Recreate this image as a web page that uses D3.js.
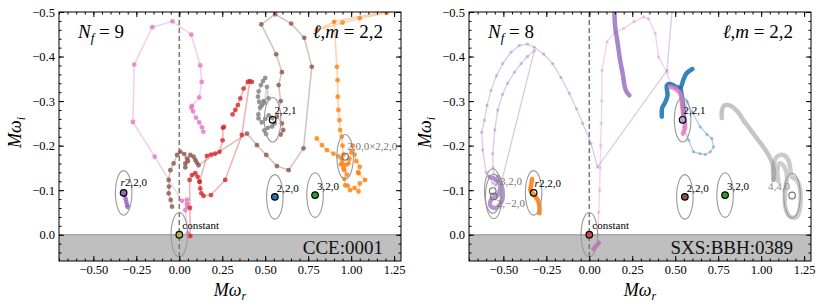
<!DOCTYPE html>
<html>
<head>
<meta charset="utf-8">
<script src="https://cdn.jsdelivr.net/npm/d3@7"></script>
<style>
  body { margin: 0; background: #fff; }
  svg { display: block; }
  text { font-family: "Liberation Serif", "DejaVu Serif", serif; }
</style>
</head>
<body>
<svg id="chart" width="822" height="307"></svg>
<script>
// axis ticks
const xTicks = [-0.5, -0.25, 0, 0.25, 0.5, 0.75, 1.0, 1.25];
const yTicks = [-0.5, -0.4, -0.3, -0.2, -0.1, 0.0];
const xMinor = d3.range(-0.7, 1.2901, 0.05);
const yMinor = d3.range(-0.5, 0.0501, 0.02);

// ---- left panel (CCE:0001, Nf = 9) trajectories, [Mw_r, Mw_i] ----
const pinkL = [[0.05,-0.003],[0.035,-0.055],[0.045,-0.063],[0.045,-0.07],[0.045,-0.079],[0.015,-0.076],
  [-0.143,-0.175],[-0.27,-0.253],[-0.262,-0.382],[-0.157,-0.466],[-0.04,-0.479],[0.07,-0.449],
  [0.122,-0.38],[0.13,-0.343],[0.116,-0.308],[0.074,-0.289],[0.07,-0.285],[0.08,-0.277],
  [0.097,-0.263],[0.116,-0.252],[0.132,-0.241],[0.14,-0.231]];
const brownL = [[-0.042,-0.063],[-0.05,-0.078],[-0.062,-0.093],[-0.06,-0.108],[-0.062,-0.123],[-0.052,-0.145],
  [-0.033,-0.16],[-0.013,-0.179],[0.006,-0.186],[0.029,-0.181],[0.045,-0.171],[0.035,-0.16],[0.035,-0.151],
  [0.05,-0.165],[0.064,-0.179],[0.083,-0.175],[0.093,-0.168],[0.102,-0.162],[0.112,-0.156],[0.394,-0.227],
  [0.452,-0.201],[0.506,-0.179],[0.568,-0.154],[0.636,-0.145],[0.723,-0.194],[0.771,-0.377],[0.727,-0.442],
  [0.651,-0.474],[0.558,-0.495],[0.477,-0.472],[0.564,-0.405],[0.597,-0.365],[0.578,-0.336],[0.59,-0.30],
  [0.568,-0.265],[0.597,-0.25],[0.605,-0.235],[0.59,-0.225]];
const redL = [[0.064,0.003],[0.062,-0.06],[0.06,-0.123],[0.074,-0.134],[0.093,-0.138],[0.107,-0.13],
  [0.118,-0.119],[0.122,-0.104],[0.128,-0.093],[0.141,-0.087],[0.184,-0.089],[0.267,-0.123],[0.364,-0.224],
  [0.41,-0.345],[0.422,-0.343],[0.399,-0.343],[0.374,-0.328],[0.355,-0.306],[0.341,-0.291],[0.326,-0.28],[0.31,-0.27]];
const redL2 = [[0.118,-0.119],[0.161,-0.177],[0.185,-0.18],[0.209,-0.182],[0.234,-0.186],[0.252,-0.212],
  [0.254,-0.24],[0.26,-0.242]];
const grayL = [[0.50,-0.352],[0.487,-0.345],[0.475,-0.336],[0.462,-0.322],[0.458,-0.31],[0.465,-0.298],
  [0.48,-0.29],[0.495,-0.296],[0.51,-0.332],[0.519,-0.306],[0.49,-0.3],[0.47,-0.285],[0.46,-0.27],
  [0.461,-0.261],[0.48,-0.252],[0.5,-0.26],[0.52,-0.268],[0.54,-0.262],[0.555,-0.25],[0.54,-0.243],
  [0.515,-0.24],[0.495,-0.234],[0.505,-0.226]];
const orangeL = [[0.80,-0.216],[0.83,-0.201],[0.859,-0.19],[0.897,-0.182],[0.925,-0.176],[0.945,-0.17],
  [0.94,-0.158],[0.955,-0.15],[0.97,-0.157],[0.985,-0.16],[0.99,-0.17],[1.0,-0.185],[1.01,-0.2],[1.02,-0.18],
  [1.03,-0.165],[1.05,-0.152],[1.04,-0.14],[1.043,-0.138],[1.081,-0.123],[1.05,-0.115],[1.043,-0.097],
  [1.02,-0.105],[0.994,-0.1],[0.98,-0.11],[0.965,-0.111],[0.96,-0.125],[0.975,-0.135],[0.96,-0.145],
  [0.95,-0.16],[0.955,-0.18],[0.95,-0.2],[0.945,-0.22],[0.936,-0.235],[0.932,-0.257],[0.926,-0.28],
  [0.922,-0.31],[0.921,-0.347],[0.917,-0.377],[0.901,-0.478],[0.80,-0.459],[0.95,-0.476],[1.05,-0.486],
  [1.207,-0.498],[1.30,-0.51]];
const orangeL2 = [[0.901,-0.478],[1.048,-0.49],[1.227,-0.503],[1.30,-0.51]];
const purpleL = [[-0.324,-0.094],[-0.318,-0.088],[-0.312,-0.08],[-0.308,-0.073],[-0.303,-0.066],[-0.30,-0.062]];

// ---- right panel (SXS:BBH:0389, Nf = 8) trajectories ----
const purpleOuterR = [[-0.56,-0.115],[-0.60,-0.14],[-0.62,-0.19],[-0.626,-0.23],[-0.61,-0.257],[-0.595,-0.29],
  [-0.572,-0.324],[-0.54,-0.357],[-0.504,-0.384],[-0.455,-0.41],[-0.407,-0.425],[-0.36,-0.428],[-0.32,-0.421],
  [-0.265,-0.405],[-0.213,-0.384],[-0.165,-0.353],[-0.116,-0.317],[-0.075,-0.283],[-0.039,-0.25],
  [0.01,-0.205],[0.048,-0.152],[0.452,-0.369],[0.481,-0.5],[0.49,-0.53]];
const purpleInnerR = [[-0.545,-0.11],[-0.56,-0.15],[-0.562,-0.182],[-0.55,-0.235],[-0.533,-0.28],[-0.505,-0.315],
  [-0.475,-0.34],[-0.435,-0.365],[-0.397,-0.384],[-0.36,-0.40],[-0.32,-0.413],[-0.513,-0.115]];
const purpleThickR = [[0.145,-0.52],[0.15,-0.47],[0.165,-0.43],[0.18,-0.39],[0.195,-0.36],[0.205,-0.335],
  [0.215,-0.322],[0.233,-0.313]];
const purpleBlobR = [[-0.58,-0.13],[-0.55,-0.125],[-0.52,-0.115],[-0.53,-0.09],[-0.57,-0.08],[-0.575,-0.065],
  [-0.545,-0.06],[-0.51,-0.075],[-0.505,-0.1],[-0.53,-0.13]];
const pinkThinR = [[0.05,0.0],[0.055,-0.05],[0.06,-0.1],[0.063,-0.15],[0.066,-0.2],[0.07,-0.25],[0.072,-0.3],
  [0.074,-0.369],[0.103,-0.433],[0.15,-0.455],[0.2,-0.463],[0.26,-0.478],[0.316,-0.489],[0.345,-0.485],
  [0.384,-0.452],[0.403,-0.399],[0.452,-0.365],[0.471,-0.34]];
const pinkBottomR = [[0.025,0.032],[0.04,0.025],[0.055,0.018]];
const pinkThickR = [[0.471,-0.332],[0.5,-0.328],[0.529,-0.317],[0.539,-0.295],[0.548,-0.265],[0.558,-0.242],
  [0.545,-0.227]];
const blueThickR = [[0.422,-0.265],[0.424,-0.285],[0.44,-0.296],[0.455,-0.312],[0.452,-0.336],[0.475,-0.338],
  [0.505,-0.332],[0.53,-0.33],[0.545,-0.345],[0.565,-0.362],[0.60,-0.372]];
const blueThickR2 = [[0.53,-0.33],[0.539,-0.31],[0.548,-0.28],[0.552,-0.255]];
const blueLoopR = [[0.552,-0.25],[0.56,-0.275],[0.568,-0.30],[0.60,-0.275],[0.645,-0.242],[0.685,-0.225],
  [0.713,-0.216],[0.723,-0.197],[0.704,-0.186],[0.675,-0.18],[0.645,-0.182],[0.606,-0.186],[0.578,-0.212],
  [0.548,-0.242]];
const grayThickR = [[0.771,-0.262],[0.772,-0.28],[0.785,-0.29],[0.80,-0.292],[0.825,-0.289],[0.849,-0.282],
  [0.875,-0.27],[0.9,-0.255],[0.93,-0.24],[0.96,-0.224],[0.99,-0.209],[1.02,-0.193],[1.045,-0.178],
  [1.065,-0.16],[1.075,-0.14],[1.072,-0.123]];
const grayLoopR = [[1.072,-0.123],[1.07,-0.15],[1.09,-0.175],[1.13,-0.179],[1.159,-0.167],[1.169,-0.15],
  [1.178,-0.13],[1.207,-0.123],[1.227,-0.1],[1.227,-0.063],[1.207,-0.04],[1.169,-0.04],[1.14,-0.063],
  [1.14,-0.1],[1.15,-0.13],[1.13,-0.155],[1.105,-0.16],[1.095,-0.14],[1.1,-0.12]];
const orangeR = [[-0.333,-0.125],[-0.339,-0.11],[-0.343,-0.1],[-0.32,-0.089],[-0.30,-0.078],[-0.29,-0.063],
  [-0.29,-0.048]];

// ---- QNM reference points ----
const modesL = [
  { label: "r2,2,0", x: -0.324, y: -0.094, fill: "#9467bd", stroke: "#000", dx: -3, dy: -7 },
  { label: "constant", x: 0.0, y: 0.0, fill: "#b3b33d", stroke: "#000", dx: 3, dy: -6 },
  { label: "2,2,0", x: 0.556, y: -0.085, fill: "#1f77b4", stroke: "#000", dx: 2, dy: -5 },
  { label: "3,2,0", x: 0.79, y: -0.089, fill: "#2ca02c", stroke: "#000", dx: 2, dy: -5 },
  { label: "2,2,1", x: 0.543, y: -0.258, fill: "none", stroke: "#000", dx: 2, dy: -6 },
  { label: "2,0,0×2,2,0", x: 0.965, y: -0.175, fill: "none", stroke: "#777", text: "#777", dx: 2, dy: -7 }
];
const modesR = [
  { label: "r3,2,0", x: -0.562, y: -0.098, fill: "none", stroke: "#777", text: "#777", dx: 3, dy: -6 },
  { label: "2,−2,0", x: -0.556, y: -0.086, fill: "none", stroke: "#777", text: "#777", dx: 3, dy: 11 },
  { label: "r2,2,0", x: -0.324, y: -0.094, fill: "none", stroke: "#000", dx: 1, dy: -6 },
  { label: "constant", x: 0.0, y: 0.0, fill: "#c0504d", stroke: "#000", dx: 3, dy: -6 },
  { label: "2,2,0", x: 0.556, y: -0.085, fill: "#8c564b", stroke: "#000", dx: 2, dy: -5 },
  { label: "3,2,0", x: 0.79, y: -0.089, fill: "#2ca02c", stroke: "#000", dx: 2, dy: -5 },
  { label: "2,2,1", x: 0.543, y: -0.258, fill: "#b9a3d6", stroke: "#000", dx: 1, dy: -6 },
  { label: "4,4,0", x: 1.18, y: -0.088, fill: "none", stroke: "#777", text: "#888", dx: -24, dy: -6 }
];

const tracesL = [
  { pts: pinkL, color: "#e377c2" }, { pts: brownL, color: "#8c564b" },
  { pts: redL, color: "#d62728" }, { pts: redL2, color: "#d62728" },
  { pts: grayL, color: "#7f7f7f" }, { pts: orangeL, color: "#ff7f0e" },
  { pts: orangeL2, color: "#ff7f0e", noDots: true }, { pts: purpleL, color: "#9467bd" }
];
const tracesR = [
  { pts: purpleOuterR, color: "#9467bd", thin: true }, { pts: purpleInnerR, color: "#9467bd", thin: true },
  { pts: pinkThinR, color: "#e377c2", thin: true }, { pts: blueLoopR, color: "#1f77b4", thin: true },
  { pts: grayThickR, color: "#7f7f7f", thick: true, op: 0.45 }, { pts: grayLoopR, color: "#7f7f7f", thick: true, op: 0.4 },
  { pts: purpleBlobR, color: "#9467bd", thick: true, op: 0.7 }, { pts: purpleThickR, color: "#9467bd", thick: true, op: 0.8 },
  { pts: orangeR, color: "#ff7f0e", thick: true, op: 0.9 }, { pts: blueThickR, color: "#1f77b4", thick: true, op: 0.9 },
  { pts: blueThickR2, color: "#1f77b4", thick: true, op: 0.9 }, { pts: pinkThickR, color: "#e377c2", thick: true, op: 0.85 },
  { pts: pinkBottomR, color: "#c76bb5", thick: true, op: 0.9 }
];

const svg = d3.select("#chart");
const W = 342, H = 249;
const x = d3.scaleLinear().domain([-0.7, 1.29]).range([0, W]);
const y = d3.scaleLinear().domain([-0.5, 0.059]).range([0, H]);
const line = d3.line().x(d => x(d[0])).y(d => y(d[1]));
const smooth = d3.line().x(d => x(d[0])).y(d => y(d[1])).curve(d3.curveCatmullRom);

function drawPanel(left, id, traces, modes, nf, runName) {
  const g = svg.append("g").attr("transform", `translate(${left},12)`);

  g.append("clipPath").attr("id", id).append("rect").attr("width", W).attr("height", H);
  const plot = g.append("g").attr("clip-path", `url(#${id})`);

  // unstable region below zero
  plot.append("rect").attr("x", 0).attr("y", y(0)).attr("width", W).attr("height", H - y(0))
    .attr("fill", "#bfbfbf");
  plot.append("line").attr("x1", 0).attr("x2", W).attr("y1", y(0)).attr("y2", y(0))
    .attr("stroke", "#a8a8a8").attr("stroke-width", 1.5);

  plot.append("line").attr("x1", x(0)).attr("x2", x(0)).attr("y1", 0).attr("y2", H)
    .attr("stroke", "#777").attr("stroke-width", 1.5).attr("stroke-dasharray", "5,3");

  traces.forEach(t => {
    if (t.thick) {
      plot.append("path").datum(t.pts).attr("d", smooth)
        .attr("fill", "none").attr("stroke", t.color).attr("stroke-width", 4.5)
        .attr("stroke-linecap", "round").attr("stroke-linejoin", "round").attr("opacity", t.op);
      return;
    }
    plot.append("path").datum(t.pts).attr("d", line)
      .attr("fill", "none").attr("stroke", t.color)
      .attr("stroke-width", t.thin ? 1.3 : 1.6).attr("opacity", 0.35);
    if (t.noDots) return;
    plot.selectAll(null).data(t.pts).enter().append("circle")
      .attr("cx", d => x(d[0])).attr("cy", d => y(d[1]))
      .attr("r", t.thin ? 1.7 : 2.4).attr("fill", t.color).attr("opacity", t.thin ? 0.35 : 0.8);
  });

  // ellipses around the QNM frequencies
  plot.selectAll(null).data(modes).enter().append("ellipse")
    .attr("cx", d => x(d.x)).attr("cy", d => y(d.y))
    .attr("rx", x(0.048) - x(0)).attr("ry", y(0.05) - y(0))
    .attr("fill", "none").attr("stroke", "#999").attr("stroke-width", 1.1);

  plot.selectAll(null).data(modes).enter().append("circle")
    .attr("cx", d => x(d.x)).attr("cy", d => y(d.y)).attr("r", 3.3)
    .attr("fill", d => d.fill).attr("stroke", d => d.stroke).attr("stroke-width", 1.2);

  modes.forEach(d => {
    const t = g.append("text").attr("x", x(d.x) + d.dx).attr("y", y(d.y) + d.dy)
      .attr("font-size", 11).attr("fill", d.text || "#000");
    if (d.label[0] === "r") {
      t.append("tspan").attr("font-style", "italic").text("r");
      t.append("tspan").text(d.label.slice(1));
    } else t.text(d.label);
  });

  // annotations
  const nt = g.append("text").attr("x", 19).attr("y", 26).attr("font-size", 19);
  nt.append("tspan").attr("font-style", "italic").text("N");
  nt.append("tspan").attr("font-style", "italic").attr("font-size", 13).attr("dy", 4).text("f");
  nt.append("tspan").attr("dy", -4).text(" = " + nf);

  const lm = g.append("text").attr("x", W - 18).attr("y", 26).attr("font-size", 19).attr("text-anchor", "end");
  lm.append("tspan").attr("font-style", "italic").text("ℓ");
  lm.append("tspan").text(",");
  lm.append("tspan").attr("font-style", "italic").text("m");
  lm.append("tspan").text(" = 2,2");

  g.append("text").attr("x", W - 18).attr("y", H - 7).attr("font-size", 19)
    .attr("text-anchor", "end").attr("fill", "#111").text(runName);

  // axes with inward ticks on all sides
  const fmtX = d3.format(".2f"), fmtY = d3.format(".1f");
  const axes = [
    [d3.axisBottom(x).tickValues(xTicks).tickFormat(fmtX), `translate(0,${H})`],
    [d3.axisTop(x).tickValues(xTicks).tickFormat(""), null],
    [d3.axisLeft(y).tickValues(yTicks).tickFormat(fmtY), null],
    [d3.axisRight(y).tickValues(yTicks).tickFormat(""), `translate(${W},0)`]
  ];
  axes.forEach(([ax, tr]) => {
    const a = g.append("g").attr("transform", tr).call(ax.tickSize(-5).tickPadding(4));
    a.select(".domain").remove();
    a.attr("font-family", "Liberation Serif, serif").attr("font-size", 12.5);
  });
  const minors = [
    [d3.axisBottom(x).tickValues(xMinor), `translate(0,${H})`],
    [d3.axisTop(x).tickValues(xMinor), null],
    [d3.axisLeft(y).tickValues(yMinor), null],
    [d3.axisRight(y).tickValues(yMinor), `translate(${W},0)`]
  ];
  minors.forEach(([ax, tr]) => {
    const a = g.append("g").attr("transform", tr).call(ax.tickSize(-2.5).tickFormat(""));
    a.select(".domain").remove();
  });

  g.append("rect").attr("width", W).attr("height", H).attr("fill", "none")
    .attr("stroke", "#000").attr("stroke-width", 1);

  // axis titles
  const xl = g.append("text").attr("x", W / 2).attr("y", H + 35).attr("font-size", 18)
    .attr("text-anchor", "middle").attr("font-style", "italic");
  xl.append("tspan").text("Mω");
  xl.append("tspan").attr("font-size", 12).attr("dy", 4).text("r");

  const yl = g.append("text").attr("transform", `translate(-38,${H / 2 - 4}) rotate(-90)`)
    .attr("font-size", 18).attr("text-anchor", "middle").attr("font-style", "italic");
  yl.append("tspan").text("Mω");
  yl.append("tspan").attr("font-size", 12).attr("dy", 4).text("i");
}

drawPanel(59, "clipL", tracesL, modesL, 9, "CCE:0001");
drawPanel(469, "clipR", tracesR, modesR, 8, "SXS:BBH:0389");
</script>
</body>
</html>
